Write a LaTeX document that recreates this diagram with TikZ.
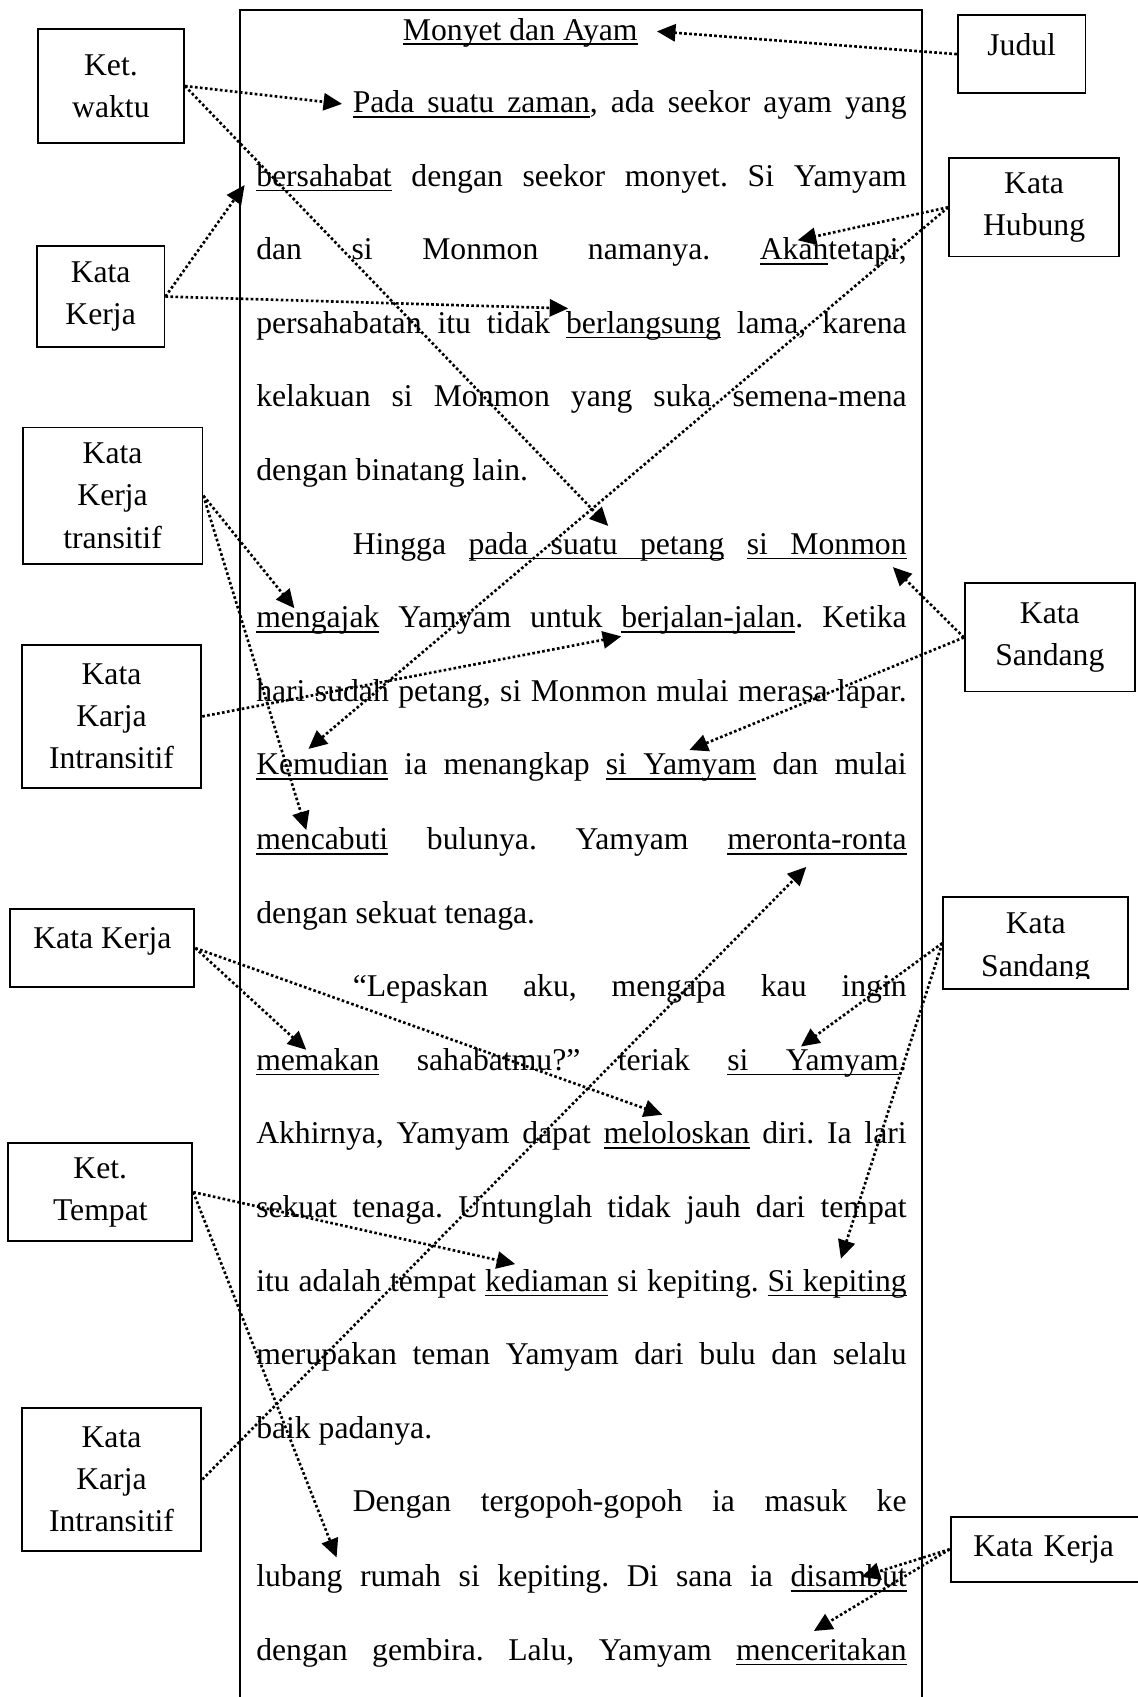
\documentclass[tikz,border=0pt]{standalone}
\usepackage{fontspec}
\setmainfont{Liberation Serif}
\usepackage{tikz}
\usetikzlibrary{arrows.meta}
\usepackage{xcolor}

\frenchspacing
\newlength{\fullw}\setlength{\fullw}{246.4pt}
\newlength{\indw}\setlength{\indw}{209.8pt}
\newcommand{\jline}[2]{\makebox[#1][s]{#2}}
\newcommand{\garis}[1]{\setbox0=\hbox{#1}\rlap{\rule[-1.9pt]{\wd0}{0.6pt}}\box0\relax}
\newcommand{\gsp}{\leaders\hrule height -1.3pt depth 1.9pt\hskip\fontdimen2\font plus \fontdimen3\font minus \fontdimen4\font}

\begin{document}
\begin{tikzpicture}[x=0.41pt, y=-0.41pt, font=\fontsize{12}{16}\selectfont,
    kotak/.style={draw, line width=0.7pt, align=center, inner sep=0pt},
    baris/.style={anchor=base west, inner sep=0pt},
    panah/.style={line width=1pt, dash pattern=on 1pt off 0.9pt, -{Triangle[length=7pt,width=6.5pt]}}]
        \useasboundingbox (0,0) rectangle (1051,1568);
        \draw[line width=0.9pt] (222,1568) -- (222,9) -- (852,9) -- (852,1568);

        % teks cerita
        \node[anchor=base, inner sep=0pt] (b-judul) at (480.7,37) {\garis{Monyet dan Ayam}};
        \node[baris] (b0) at (325.5,104) {\jline{\indw}{\garis{Pada}\gsp\garis{suatu}\gsp\garis{zaman}, ada seekor ayam yang}};
        \node[baris] (b1) at (236.3,172) {\jline{\fullw}{\garis{bersahabat} dengan seekor monyet. Si Yamyam}};
        \node[baris] (b2) at (236.3,240) {\jline{\fullw}{dan si Monmon namanya. \garis{Akan}tetapi,}};
        \node[baris] (b3) at (236.3,308) {\jline{\fullw}{persahabatan itu tidak \garis{berlangsung} lama, karena}};
        \node[baris] (b4) at (236.3,376) {\jline{\fullw}{kelakuan si Monmon yang suka semena-mena}};
        \node[baris] (b5) at (236.3,444) {dengan binatang lain.};
        \node[baris] (b6) at (325.5,512) {\jline{\indw}{Hingga \garis{pada}\gsp\garis{suatu}\gsp\garis{petang} \garis{si}\gsp\garis{Monmon}}};
        \node[baris] (b7) at (236.3,580) {\jline{\fullw}{\garis{mengajak} Yamyam untuk \garis{berjalan-jalan}. Ketika}};
        \node[baris] (b8) at (236.3,648) {\jline{\fullw}{hari sudah petang, si Monmon mulai merasa lapar.}};
        \node[baris] (b9) at (236.3,716) {\jline{\fullw}{\garis{Kemudian} ia menangkap \garis{si}\gsp\garis{Yamyam} dan mulai}};
        \node[baris] (b10) at (236.3,785) {\jline{\fullw}{\garis{mencabuti} bulunya. Yamyam \garis{meronta-ronta}}};
        \node[baris] (b11) at (236.3,853) {dengan sekuat tenaga.};
        \node[baris] (b12) at (325.5,921) {\jline{\indw}{“Lepaskan aku, mengapa kau ingin}};
        \node[baris] (b13) at (236.3,989) {\jline{\fullw}{\garis{memakan} sahabatmu?” teriak \garis{si}\gsp\garis{Yamyam}.}};
        \node[baris] (b14) at (236.3,1057) {\jline{\fullw}{Akhirnya, Yamyam dapat \garis{meloloskan} diri. Ia lari}};
        \node[baris] (b15) at (236.3,1125) {\jline{\fullw}{sekuat tenaga. Untunglah tidak jauh dari tempat}};
        \node[baris] (b16) at (236.3,1193) {\jline{\fullw}{itu adalah tempat \garis{kediaman} si kepiting. \garis{Si}\gsp\garis{kepiting}}};
        \node[baris] (b17) at (236.3,1261) {\jline{\fullw}{merupakan teman Yamyam dari bulu dan selalu}};
        \node[baris] (b18) at (236.3,1329) {baik padanya.};
        \node[baris] (b19) at (325.5,1397) {\jline{\indw}{Dengan tergopoh-gopoh ia masuk ke}};
        \node[baris] (b20) at (236.3,1466) {\jline{\fullw}{lubang rumah si kepiting. Di sana ia \garis{disambut}}};
        \node[baris] (b21) at (236.3,1534) {\jline{\fullw}{dengan gembira. Lalu, Yamyam \garis{menceritakan}}};

        % kotak keterangan
        \node[kotak, minimum width=55.4pt, minimum height=43.1pt] (waktu) at (102.5,79.5) {Ket.\\waktu};
        \node[kotak, minimum width=48.4pt, minimum height=29.5pt, text depth=7pt] (judul) at (944,50) {Judul};
        \node[kotak, minimum width=64.4pt, minimum height=37.3pt] (hubung) at (955.5,191.5) {Kata\\Hubung};
        \node[kotak, minimum width=48.4pt, minimum height=38.5pt] (kerjaA) at (93,274) {Kata\\Kerja};
        \node[kotak, minimum width=68.1pt, minimum height=51.7pt] (transitif) at (104,458) {Kata\\Kerja\\transitif};
        \node[kotak, minimum width=68.1pt, minimum height=54.1pt] (intransA) at (103,662) {Kata\\Karja\\Intransitif};
        \node[kotak, minimum width=64.4pt, minimum height=41pt] (sandangA) at (970,589) {Kata\\Sandang};
        \node[kotak, minimum width=69.7pt, minimum height=29.5pt, text depth=8pt] (kerjaB) at (94.6,876) {Kata Kerja};
        \node[kotak, minimum width=70.1pt, minimum height=34.9pt] (sandangB) at (957,871.5) {};
        \begin{scope}
            \clip (871.8,829) rectangle (1042.6,904.5);
            \node[align=center, inner sep=0pt] (sandangB-teks) at (957,876) {Kata\\Sandang};
        \end{scope}
        \node[kotak, minimum width=69.7pt, minimum height=37.3pt] (tempat) at (92.7,1101.5) {Ket.\\Tempat};
        \node[kotak, minimum width=68.1pt, minimum height=54.1pt] (intransB) at (103,1367) {Kata\\Karja\\Intransitif};
        \node[kotak, anchor=west, align=left, text width=69.7pt, inner xsep=8.6pt, minimum height=24.6pt] (kerjaC) at (877.5,1431.5) {Kata Kerja};

        % ujung panah
        \coordinate (t-judul) at (607,29);
        \coordinate (t-zaman) at (316,96);
        \coordinate (t-petang) at (562,486);
        \coordinate (t-bersahabat) at (226,171);
        \coordinate (t-berlangsung) at (525,285);
        \coordinate (t-akan) at (737,222);
        \coordinate (t-kemudian) at (285,692);
        \coordinate (t-mengajak) at (272,562);
        \coordinate (t-mencabuti) at (283,767);
        \coordinate (t-berjalan) at (574,588);
        \coordinate (t-monmon) at (825,524);
        \coordinate (t-yamyamA) at (637,693);
        \coordinate (t-memakan) at (283,970);
        \coordinate (t-meloloskan) at (612,1030);
        \coordinate (t-yamyamB) at (740,967);
        \coordinate (t-kepiting) at (777,1163);
        \coordinate (t-kediaman) at (476,1168);
        \coordinate (t-lubang) at (311,1439);
        \coordinate (t-meronta) at (745,801);
        \coordinate (t-disambut) at (796,1457);
        \coordinate (t-menceritakan) at (752,1507);

        \draw[panah] (judul.west) -- (t-judul);
        \draw[panah] (waktu.east) -- (t-zaman);
        \draw[panah] (waktu.east) -- (t-petang);
        \draw[panah] (kerjaA.east) -- (t-bersahabat);
        \draw[panah] (kerjaA.east) -- (t-berlangsung);
        \draw[panah] (hubung.west) -- (t-akan);
        \draw[panah] (hubung.west) -- (t-kemudian);
        \draw[panah] (transitif.east) -- (t-mengajak);
        \draw[panah] (transitif.east) -- (t-mencabuti);
        \draw[panah] (intransA.east) -- (t-berjalan);
        \draw[panah] (sandangA.west) -- (t-monmon);
        \draw[panah] (sandangA.west) -- (t-yamyamA);
        \draw[panah] (kerjaB.east) -- (t-memakan);
        \draw[panah] (kerjaB.east) -- (t-meloloskan);
        \draw[panah] (sandangB.west) -- (t-yamyamB);
        \draw[panah] (sandangB.west) -- (t-kepiting);
        \draw[panah] (tempat.east) -- (t-kediaman);
        \draw[panah] (tempat.east) -- (t-lubang);
        \draw[panah] (intransB.east) -- (t-meronta);
        \draw[panah] (kerjaC.west) -- (t-disambut);
        \draw[panah] (kerjaC.west) -- (t-menceritakan);
\end{tikzpicture}
\end{document}
